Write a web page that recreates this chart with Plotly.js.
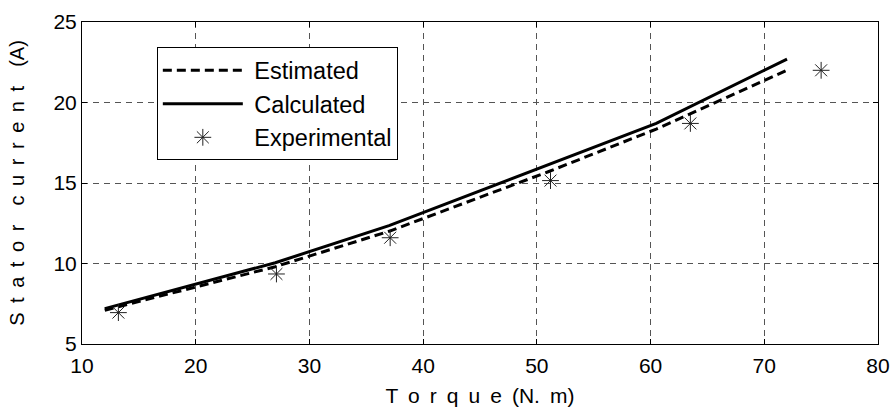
<!DOCTYPE html>
<html>
<head>
<meta charset="utf-8">
<script src="https://cdn.plot.ly/plotly-3.0.1.min.js"></script>
<style>html,body{margin:0;padding:0;background:#fff}#chart{width:896px;height:407px}</style>
</head>
<body>
<div id="chart"></div>
<script>
const estX = [12, 27, 37, 51, 60.5, 72];
const estY = [7.1, 9.8, 12.0, 15.7, 18.35, 22.0];
const calcX = [12, 27, 37, 51, 60.5, 72];
const calcY = [7.2, 10.05, 12.35, 16.15, 18.7, 22.7];
const expX = [13.2, 27.1, 37.1, 51.2, 63.5, 75.0];
const expY = [6.95, 9.35, 11.6, 15.15, 18.7, 22.0];
const xTicks = [10, 20, 30, 40, 50, 60, 70, 80];
const yTicks = [5, 10, 15, 20, 25];

const sp = ' \u2009';
const spaced = s => s.split('').join(sp);

const traces = [
  {x: estX, y: estY, name: ' Estimated', mode: 'lines', legendgroup: 'a',
   line: {color: '#000', width: 3, dash: '9px,5px'}},
  {x: calcX, y: calcY, name: ' Calculated', mode: 'lines', legendgroup: 'b',
   line: {color: '#000', width: 3}},
  {x: expX, y: expY, name: ' Experimental', mode: 'markers', legendgroup: 'c',
   marker: {symbol: 'asterisk-open', size: 14, color: '#222', line: {color: '#222', width: 1}}}
];

const axisCommon = {
  showline: true, mirror: 'ticks', linecolor: '#000', linewidth: 1,
  ticks: 'inside', ticklen: 5, tickcolor: '#000',
  showgrid: true, gridcolor: '#555', griddash: '6px,5px', gridwidth: 1,
  zeroline: false,
  tickfont: {family: 'Liberation Sans, Arial, sans-serif', size: 21, color: '#000'}
};

const layout = {
  width: 896, height: 407,
  margin: {l: 82, r: 18, t: 22, b: 63},
  paper_bgcolor: '#fff', plot_bgcolor: '#fff',
  font: {family: 'Liberation Sans, Arial, sans-serif', color: '#000'},
  xaxis: Object.assign({}, axisCommon, {
    range: [10, 80], tickvals: xTicks, ticktext: xTicks.map(String),
    ticklabelstandoff: 3,
    title: {text: spaced('Torque') + sp + '(N.' + sp + 'm)', font: {size: 21}, standoff: 12}
  }),
  yaxis: Object.assign({}, axisCommon, {
    range: [5, 25], tickvals: yTicks, ticktext: yTicks.map(String),
    title: {text: spaced('Stator') + sp + sp + spaced('current') + sp + sp + '(A)', font: {size: 20}, standoff: 23}
  }),
  showlegend: true,
  legend: {
    x: 0.094, y: 0.921, xanchor: 'left', yanchor: 'top',
    bordercolor: '#000', borderwidth: 1, bgcolor: '#fff',
    font: {size: 23.5, color: '#000'}, itemwidth: 80, tracegroupgap: 3,
    traceorder: 'normal'
  }
};

Plotly.newPlot('chart', traces, layout, {displayModeBar: false, staticPlot: true});
</script>
</body>
</html>
